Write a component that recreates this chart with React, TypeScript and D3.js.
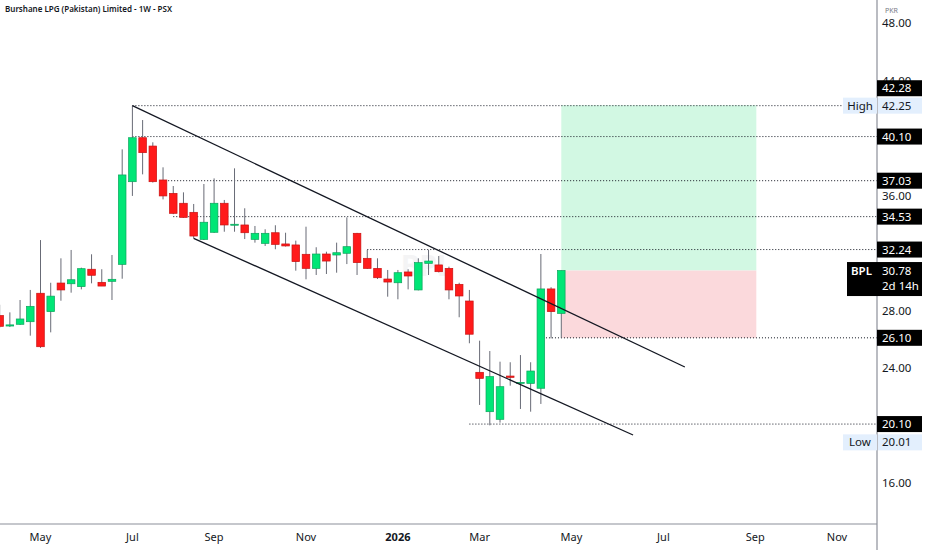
import * as d3 from 'd3'

const W = 932
const H = 550

// weekly bars, first bar is the week of 2025-04-07
const firstWeek = new Date(Date.UTC(2025, 3, 7))
const opens = [
  27.65, 26.92, 27.04, 27.22, 29.2, 27.92, 29.91, 29.86, 29.66, 30.87, 29.96, 30.03, 31.21, 36.96,
  40.02, 39.44, 37.08, 36.15, 35.46, 34.83, 32.95, 33.44, 35.46, 33.99, 33.95, 32.95, 32.67, 33.41,
  32.63, 32.56, 31.91, 30.93, 31.93, 31.86, 31.98, 33.37, 31.63, 30.93, 30.19, 29.93, 30.68, 29.43,
  31.28, 31.17, 30.93, 29.82, 28.66, 23.7, 20.96, 20.43, 23.44, 22.98, 22.93, 22.59, 29.5, 27.8,
]
const highs = [
  28.4, 27.87, 28.73, 29.43, 32.9, 29.93, 31.63, 32.21, 30.98, 31.91, 30.87, 31.86, 39.21, 42.25,
  41.25, 39.7, 37.96, 36.66, 36.22, 35.41, 36.8, 37.19, 35.69, 37.89, 35.11, 33.88, 33.65, 33.93,
  33.41, 32.86, 33.83, 32.4, 32.09, 32.72, 34.48, 33.4, 32.21, 31.63, 30.82, 30.82, 30.87, 31.63,
  32.21, 31.79, 31.05, 29.93, 29.43, 25.9, 25.18, 24.44, 24.4, 24.9, 24.4, 31.93, 29.62, 30.78,
]
const lows = [
  26.8, 26.85, 27.0, 26.25, 25.4, 26.48, 28.68, 29.24, 29.47, 29.89, 29.7, 28.73, 30.21, 35.97,
  37.47, 36.9, 35.73, 34.7, 34.45, 33.02, 32.9, 33.4, 33.48, 33.48, 32.97, 32.72, 32.49, 32.26,
  32.45, 30.77, 30.17, 30.47, 30.54, 30.63, 31.23, 30.47, 30.9, 30.19, 28.96, 28.78, 29.47, 29.4,
  30.47, 30.65, 28.78, 27.53, 25.72, 21.43, 20.01, 20.2, 22.77, 21.15, 20.96, 21.5, 26.06, 26.1,
]
const closes = [
  26.9, 27.0, 27.41, 28.29, 25.48, 29.0, 29.43, 30.14, 30.91, 30.45, 29.7, 30.17, 37.43, 40.02,
  38.98, 36.96, 35.97, 34.76, 34.48, 33.18, 34.14, 35.46, 33.95, 34.0, 33.41, 33.37, 33.37, 32.6,
  32.49, 31.4, 30.93, 31.93, 31.44, 32.02, 32.44, 31.33, 30.93, 30.28, 29.98, 30.63, 30.4, 31.33,
  31.44, 30.7, 29.43, 29.01, 26.35, 23.28, 23.4, 22.7, 23.35, 23.0, 23.79, 29.5, 27.92, 30.78,
]

// price axis ticks that stay visible (20, 32, 40 sit under the level labels)
const priceTicks = [16, 24, 28, 36, 44, 48]
const monthTicks = [
  { y: 2025, m: 4, label: 'May' },
  { y: 2025, m: 6, label: 'Jul' },
  { y: 2025, m: 8, label: 'Sep' },
  { y: 2025, m: 10, label: 'Nov' },
  { y: 2026, m: 0, label: '2026' },
  { y: 2026, m: 2, label: 'Mar' },
  { y: 2026, m: 4, label: 'May' },
  { y: 2026, m: 6, label: 'Jul' },
  { y: 2026, m: 8, label: 'Sep' },
  { y: 2026, m: 10, label: 'Nov' },
]

// horizontal dotted levels: price, first week (bar index)
const levels = [
  { v: 42.25, from: 13 },
  { v: 40.1, from: 13 },
  { v: 37.03, from: 16.5 },
  { v: 34.53, from: 17 },
  { v: 32.24, from: 36 },
  { v: 26.1, from: 53.5 },
  { v: 20.1, from: 46 },
]
// channel lines [barIndex, price]
const upperLine: [number, number][] = [[13, 42.25], [67.1, 24.07]]
const lowerLine: [number, number][] = [[19, 33.02], [62.03, 19.34]]

// long position
const entry = 30.78
const target = 42.28
const stop = 26.1
const posFrom = 55
const posTo = 74.1

const axisLabels = [
  { v: 42.28, text: '42.28', shift: -17 },
  { v: 40.1, text: '40.10', shift: 0 },
  { v: 37.03, text: '37.03', shift: 0 },
  { v: 34.53, text: '34.53', shift: 0 },
  { v: 32.24, text: '32.24', shift: 0 },
  { v: 26.1, text: '26.10', shift: 0 },
  { v: 20.1, text: '20.10', shift: 0 },
]
const highLow = [
  { v: 42.25, name: 'High', text: '42.25', shift: 0 },
  { v: 20.01, name: 'Low', text: '20.01', shift: 17 },
]

const FONT = '"Noto Sans", "DejaVu Sans", sans-serif'
const UP = '#00e676'
const UP_EDGE = '#0aa55c'
const DOWN = '#ff1a1a'
const DOWN_EDGE = '#c91212'
const WICK = '#686b76'
const INK = '#131722'

const plotRight = 877
const plotBottom = 524

export default function App() {
  const x = d3
    .scaleUtc()
    .domain([new Date(Date.UTC(2025, 4, 5)), new Date(Date.UTC(2026, 10, 2))])
    .range([40.5, 837])
  const xi = (i: number) => x(new Date(firstWeek.getTime() + i * 7 * 864e5))
  const y = d3.scaleLinear().domain([16, 48]).range([483, 23])

  const bw = 7.6
  const line = d3
    .line<[number, number]>()
    .x(d => xi(d[0]))
    .y(d => y(d[1]))

  return (
    <div style={{ position: 'fixed', left: 0, top: 0 }}>
      <svg width={W} height={H} style={{ display: 'block', background: '#fff' }} fontFamily={FONT}>
        <defs>
          <clipPath id="plot">
            <rect x={0} y={0} width={plotRight} height={plotBottom} />
          </clipPath>
        </defs>

        <text x={5} y={12} fontSize={8} fontWeight={600} fill={INK}>
          Burshane LPG (Pakistan) Limited - 1W - PSX
        </text>

        <g clipPath="url(#plot)">
          <text x={401} y={276} fontSize={28} fontWeight={700} fill="#f4f4f5">
            BPL
          </text>

          {/* long position zones */}
          <rect
            x={xi(posFrom)}
            y={y(target)}
            width={xi(posTo) - xi(posFrom)}
            height={y(entry) - y(target)}
            fill="#d2f8e3"
          />
          <rect
            x={xi(posFrom)}
            y={y(entry)}
            width={xi(posTo) - xi(posFrom)}
            height={y(stop) - y(entry)}
            fill="#fbd9dc"
          />

          {levels.map((l, i) => (
            <line
              key={i}
              x1={xi(l.from)}
              x2={l.v === 42.25 ? 843 : plotRight}
              y1={y(l.v)}
              y2={y(l.v)}
              stroke={INK}
              strokeWidth={1}
              strokeDasharray="1 2"
            />
          ))}

          {closes.map((c, i) => {
            const o = opens[i]
            const up = c >= o
            const cx = xi(i)
            const top = y(Math.max(o, c))
            const h = Math.max(1, y(Math.min(o, c)) - top)
            return (
              <g key={i}>
                <line x1={cx} x2={cx} y1={y(highs[i])} y2={y(lows[i])} stroke={WICK} strokeWidth={1} />
                <rect
                  x={cx - bw / 2}
                  y={top}
                  width={bw}
                  height={h}
                  fill={up ? UP : DOWN}
                  stroke={up ? UP_EDGE : DOWN_EDGE}
                  strokeWidth={0.7}
                />
              </g>
            )
          })}

          <path d={line(upperLine) ?? ''} fill="none" stroke={INK} strokeWidth={1.3} />
          <path d={line(lowerLine) ?? ''} fill="none" stroke={INK} strokeWidth={1.3} />
        </g>

        {/* axes frame */}
        <line x1={0} x2={plotRight} y1={plotBottom} y2={plotBottom} stroke="#8c8f99" strokeWidth={1.2} />
        <line x1={plotRight} x2={plotRight} y1={0} y2={H} stroke="#8c8f99" strokeWidth={1.2} />

        <text x={885} y={13} fontSize={7} fill="#787b86">
          PKR
        </text>
        {priceTicks.map(t => (
          <text key={t} x={882} y={y(t) + 4} fontSize={11.5} fill={INK}>
            {t.toFixed(2)}
          </text>
        ))}

        {monthTicks.map((t, i) => {
          const d = d3.utcMonday.ceil(new Date(Date.UTC(t.y, t.m, 1)))
          return (
            <text
              key={i}
              x={x(d)}
              y={541}
              fontSize={11}
              textAnchor="middle"
              fill={INK}
              fontWeight={t.label === '2026' ? 700 : 400}
            >
              {t.label}
            </text>
          )
        })}

        {highLow.map(h => {
          const cy = y(h.v) + h.shift
          return (
            <g key={h.name}>
              <rect x={843} y={cy - 8} width={34} height={16} fill="#e3effd" />
              <text x={860} y={cy + 4} fontSize={11.5} textAnchor="middle" fill={INK}>
                {h.name}
              </text>
              <rect x={878} y={cy - 8} width={44} height={16} fill="#e3effd" />
              <text x={882} y={cy + 4} fontSize={11.5} fill={INK}>
                {h.text}
              </text>
            </g>
          )
        })}

        {axisLabels.map(l => {
          const cy = y(l.v) + l.shift
          return (
            <g key={l.text}>
              <rect x={877} y={cy - 8} width={45} height={16} fill="#000" />
              <text x={882} y={cy + 4} fontSize={11.5} fill="#fff">
                {l.text}
              </text>
            </g>
          )
        })}

        {/* last price label */}
        <rect x={847} y={y(entry) - 8.5} width={75} height={34} fill="#000" />
        <text x={851} y={y(entry) + 4} fontSize={11.5} fill="#fff" fontWeight={600}>
          BPL
        </text>
        <text x={882} y={y(entry) + 4} fontSize={11.5} fill="#fff">
          {entry.toFixed(2)}
        </text>
        <text x={882} y={y(entry) + 19} fontSize={11.5} fill="#fff">
          2d 14h
        </text>
      </svg>
    </div>
  )
}
